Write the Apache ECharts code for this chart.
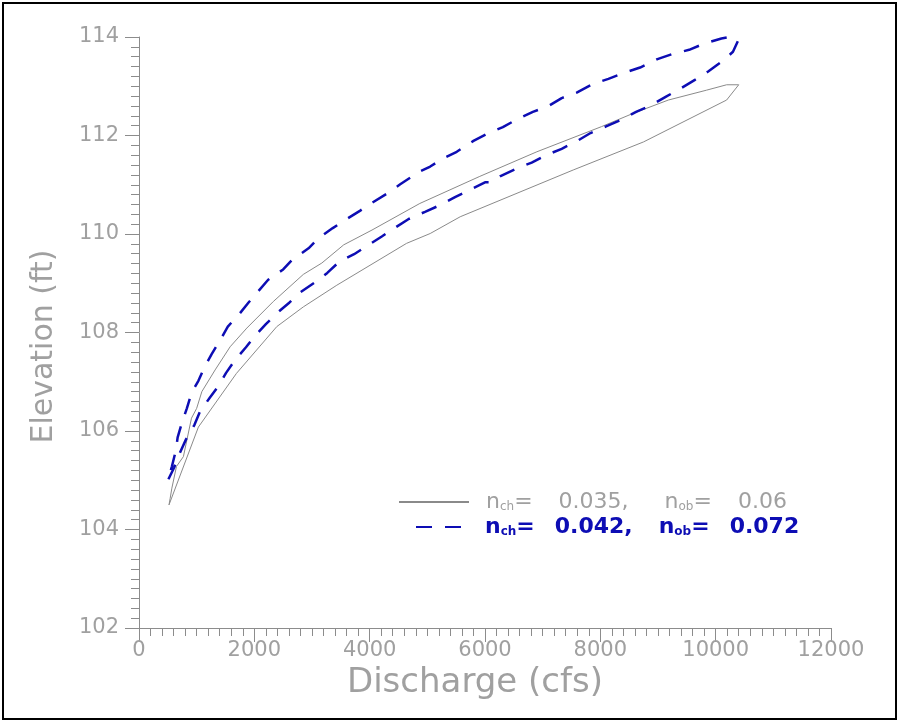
<!DOCTYPE html>
<html><head><meta charset="utf-8">
<script src="https://cdn.jsdelivr.net/npm/echarts@6/dist/echarts.min.js"></script>
<style>html,body{margin:0;padding:0;background:#fff}#c{width:900px;height:724px}</style>
</head><body><div id="c"></div>
<script>
// Discharge (cfs) / Elevation (ft) pairs, loop traced in order
const lowN_Q = [520,1030,1690,2390,2850,3430,4640,5050,5570,7530,8750,10190,10400,10190,9840,9180,8570,8020,6900,5910,4870,4040,3550,3170,2850,2330,1870,1580,1320,1090,1000,910,770,650,570,540,520];
const lowN_E = [104.50,106.08,107.17,108.12,108.52,108.96,109.81,110.01,110.35,111.30,111.87,112.72,113.03,113.03,112.92,112.72,112.45,112.18,111.67,111.17,110.62,110.08,109.78,109.41,109.18,108.63,108.09,107.71,107.24,106.80,106.46,106.26,105.48,105.28,104.84,104.63,104.50];
const highN_Q = [510,610,710,815,960,1060,1230,1375,1510,1665,1855,2010,2200,2400,2610,2790,3040,3265,3475,3730,3995,4210,4470,4670,4960,5190,5480,5740,6000,6100,6260,6550,6810,7060,7330,7600,7830,8110,8370,8620,8890,9140,9370,9640,9870,10130,10300,10390,10240,10100,9790,9540,9240,8990,8690,8430,8140,7880,7590,7330,7090,6830,6540,6310,6030,5800,5510,5280,5050,4870,4530,4300,4050,3830,3570,3360,3110,2940,2650,2500,2240,2070,1900,1750,1540,1420,1260,1140,1030,910,830,750,670,640,570,510];
const highN_E = [105.02,105.26,105.56,105.83,106.12,106.40,106.68,106.91,107.18,107.44,107.70,107.93,108.17,108.40,108.61,108.81,109.01,109.21,109.44,109.59,109.79,109.95,110.15,110.30,110.45,110.57,110.75,110.90,111.05,111.05,111.17,111.33,111.45,111.60,111.73,111.89,112.05,112.19,112.32,112.48,112.62,112.79,112.94,113.13,113.30,113.52,113.70,113.93,114.00,113.97,113.86,113.74,113.65,113.55,113.38,113.28,113.15,113.05,112.87,112.76,112.59,112.48,112.32,112.17,112.03,111.89,111.67,111.54,111.37,111.27,111.01,110.82,110.64,110.47,110.28,110.12,109.91,109.71,109.47,109.28,109.07,108.84,108.61,108.39,108.12,107.87,107.56,107.31,107.02,106.77,106.46,106.19,105.87,105.61,105.28,105.02];
const xTicks = {min: 0, max: 12000, step: 2000};
const yTicks = {min: 102, max: 114, step: 2};
const legendLow = {nch: '0.035,', nob: '0.06'};
const legendHigh = {nch: '0.042,', nob: '0.072'};

const pairs = (a, b) => a.map((v, i) => [v, b[i]]);
const FONT = "'DejaVu Sans', sans-serif";
const GRAY = '#a0a0a0';
const BLUE = '#0d0db4';

const chart = echarts.init(document.getElementById('c'));
const axisCommon = {
  axisLine: {show: true, lineStyle: {color: '#8c8c8c', width: 1}},
  axisTick: {show: true, inside: false, length: 14, lineStyle: {color: '#8c8c8c'}},
  minorTick: {show: true, splitNumber: 10, length: 8, lineStyle: {color: '#8c8c8c'}},
  splitLine: {show: false},
  nameLocation: 'middle'
};
const legendFmt = (v) => '{s|}{t|n}{b|ch}{t|=}{g1|}{t|' + v.nch + '}{g2|}{t|n}{b|ob}{t|=}{g1|}{t|' + v.nob + '}';
const richFor = (color, weight, lead, g1, g2) => ({
  s: {width: lead},
  t: {color: color, fontFamily: FONT, fontWeight: weight, fontSize: 22},
  b: {color: color, fontFamily: FONT, fontWeight: weight, fontSize: 12, padding: [10, 0, 0, 0]},
  g1: {width: g1},
  g2: {width: g2}
});
chart.setOption({
  animation: false,
  backgroundColor: '#fff',
  grid: {left: 139, right: 69, top: 37, bottom: 96},
  xAxis: Object.assign({}, axisCommon, {
    type: 'value', min: xTicks.min, max: xTicks.max, interval: xTicks.step,
    name: 'Discharge (cfs)', nameGap: 35,
    nameTextStyle: {color: GRAY, fontFamily: FONT, fontSize: 34, padding: [0, 20, 0, 0]},
    axisLabel: {color: GRAY, fontFamily: FONT, fontSize: 21, margin: 12, formatter: (v) => String(v)}
  }),
  yAxis: Object.assign({}, axisCommon, {
    type: 'value', min: yTicks.min, max: yTicks.max, interval: yTicks.step,
    name: 'Elevation (ft)', nameGap: 80, nameRotate: 90,
    nameTextStyle: {color: GRAY, fontFamily: FONT, fontSize: 30, padding: [0, 28, 0, 0]},
    axisLabel: {color: GRAY, fontFamily: FONT, fontSize: 21, margin: 20}
  }),
  legend: [
    {
      data: ['low'], left: 398, top: 491, padding: 0, itemWidth: 70, itemHeight: 14,
      itemStyle: {opacity: 0},
      formatter: () => legendFmt(legendLow),
      textStyle: {rich: richFor(GRAY, 'normal', 12, 26, 36)}
    },
    {
      data: ['high'], left: 415, top: 516, padding: 0, itemWidth: 50, itemHeight: 14,
      itemStyle: {opacity: 0},
      formatter: () => legendFmt(legendHigh),
      textStyle: {rich: richFor(BLUE, 'bold', 14, 20, 26)}
    }
  ],
  graphic: [{type: 'rect', shape: {x: 3, y: 3, width: 893, height: 716}, style: {fill: 'none', stroke: '#000', lineWidth: 2}, silent: true}],
  series: [
    {name: 'low', type: 'line', data: pairs(lowN_Q, lowN_E), symbol: 'none', smooth: false,
     lineStyle: {color: '#8a8a8a', width: 1}, itemStyle: {color: '#8a8a8a'}},
    {name: 'high', type: 'line', data: pairs(highN_Q, highN_E), symbol: 'none', smooth: false,
     lineStyle: {color: BLUE, width: 2.5, type: [16, 13]}, itemStyle: {color: BLUE}}
  ]
});
</script></body></html>
